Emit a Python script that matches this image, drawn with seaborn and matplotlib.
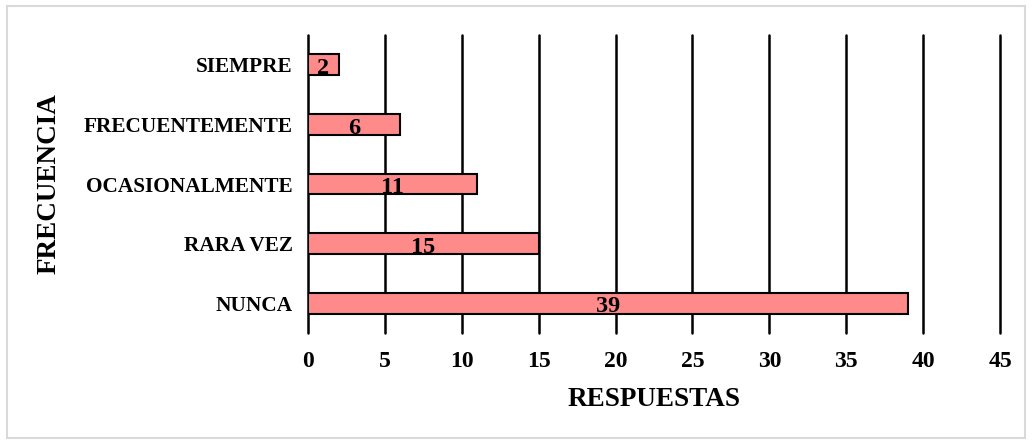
import numpy as np
import pandas as pd
import matplotlib.pyplot as plt
import seaborn as sns
from matplotlib.patches import Rectangle

# Données
categorias = ["SIEMPRE", "FRECUENTEMENTE", "OCASIONALMENTE", "RARA VEZ", "NUNCA"]
respuestas = [2, 6, 11, 15, 39]

df = pd.DataFrame({"frecuencia": categorias, "respuestas": respuestas})

sns.set_style("white")
plt.rcParams["font.family"] = ["Liberation Serif", "DejaVu Serif"]
plt.rcParams["font.weight"] = "bold"
plt.rcParams["text.color"] = "black"
plt.rcParams["xtick.color"] = "black"
plt.rcParams["ytick.color"] = "black"
plt.rcParams["axes.labelcolor"] = "black"

fig = plt.figure(figsize=(10.32, 4.44), dpi=100)
ax = fig.add_axes([0.2984, 0.25, 0.6706, 0.671])

sns.barplot(
    data=df,
    x="respuestas",
    y="frecuencia",
    color="#ff8a8a",
    edgecolor="black",
    linewidth=1.5,
    width=0.35,
    saturation=1,
    ax=ax,
    zorder=3,
)

for i, v in enumerate(respuestas):
    ax.text(v / 2, i + 0.06, str(v), ha="center", va="center",
            fontsize=17.5, fontweight="bold", color="black", zorder=4)

ax.set_xlim(0, 45)
ax.set_xticks(range(0, 46, 5))
ax.set_ylim(4.5, -0.5)
ax.grid(axis="x", color="black", linewidth=1.8, zorder=0)
for gl in ax.get_xgridlines():
    gl.set_clip_on(False)
for s in ax.spines.values():
    s.set_visible(False)
ax.tick_params(axis="both", length=0)
ax.tick_params(axis="x", pad=13, labelsize=17)
ax.tick_params(axis="y", pad=11, labelsize=15.3)
for lab in ax.get_xticklabels() + ax.get_yticklabels():
    lab.set_fontweight("bold")

ax.set_xlabel("RESPUESTAS", fontsize=19.5, fontweight="bold", labelpad=11)
ax.set_ylabel("FRECUENCIA", fontsize=19.5, fontweight="bold")
ax.yaxis.set_label_coords(-0.356, 0.5)

fig.patches.append(Rectangle((7 / 1032, 6 / 444), 1018 / 1032, 432 / 444,
                             transform=fig.transFigure, fill=False,
                             edgecolor="#d9d9d9", linewidth=1.5))

fig.savefig("out.png", dpi=100)
